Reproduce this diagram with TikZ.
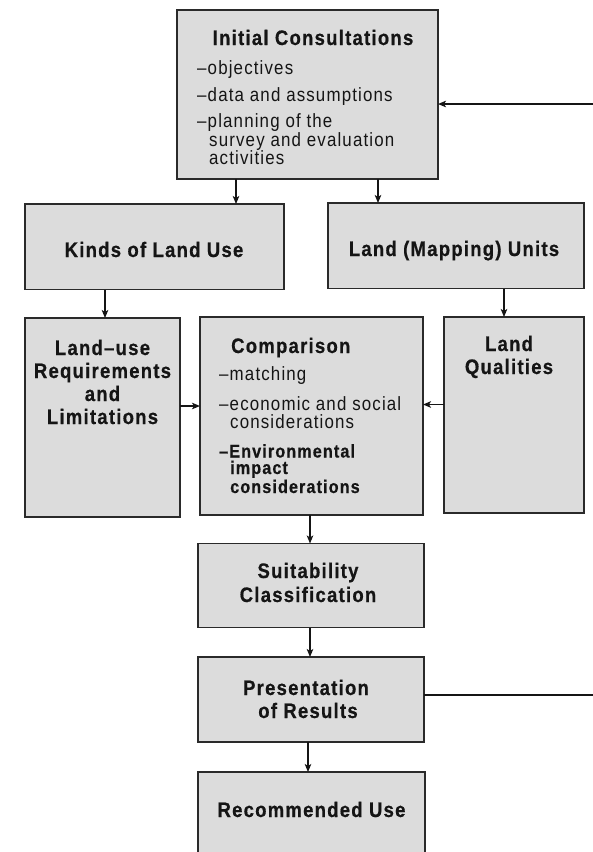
\documentclass[tikz,border=0pt]{standalone}
\usepackage{fontspec}
\setmainfont{Liberation Sans}[FakeStretch=0.88, LetterSpace=6, BoldFeatures={FakeBold=0.6}]
\usetikzlibrary{arrows.meta}
\definecolor{boxfill}{HTML}{DCDCDC}
\definecolor{boxline}{HTML}{2A2A2A}
\definecolor{ink}{HTML}{151515}
\tikzset{
  box/.style={draw=boxline, line width=1.3pt, fill=boxfill, inner sep=0pt, outer sep=0pt},
  ttl/.style={font=\fontsize{21}{23}\selectfont\bfseries, text=ink, inner sep=0pt, anchor=base},
  itm/.style={font=\fontsize{19.2}{18}\selectfont, text=ink, inner sep=0pt, anchor=base west},
  bitm/.style={font=\fontsize{18.4}{18}\selectfont\bfseries, text=ink, inner sep=0pt, anchor=base west},
  arr/.style={-{Stealth[length=8pt,width=6.5pt,inset=2pt]}, line width=1.4pt, draw=ink},
  lin/.style={line width=1.4pt, draw=ink}
}
\begin{document}
\begin{tikzpicture}[x=1pt,y=-1pt]
\useasboundingbox (0,0) rectangle (593,852);
\clip (0,0) rectangle (593,852);
\fill[white] (0,0) rectangle (593,852);

% boxes
\node[box, minimum width=261pt, minimum height=169pt] (init) at (307.5,94.5) {};
\node[box, minimum width=259pt, minimum height=85.5pt] (kinds) at (154.5,246.75) {};
\node[box, minimum width=256pt, minimum height=85.5pt] (units) at (456,245.75) {};
\node[box, minimum width=155pt, minimum height=199pt] (luse) at (102.5,417.5) {};
\node[box, minimum width=223pt, minimum height=198pt] (comp) at (311.5,416) {};
\node[box, minimum width=140pt, minimum height=196pt] (qual) at (514,415) {};
\node[box, minimum width=226pt, minimum height=84pt] (suit) at (311,585.5) {};
\node[box, minimum width=226pt, minimum height=85pt] (pres) at (311,699.5) {};
\node[box, minimum width=227pt, minimum height=108pt] (rec) at (311.5,826) {};

% texts: Initial Consultations
\node[ttl] (icT) at (313,45) {Initial Consultations};
\node[itm] (ic1) at (197,74) {–objectives};
\node[itm] (ic2) at (197,101) {–data and assumptions};
\node[itm] (ic3) at (197,127.5) {–planning of the};
\node[itm] (ic3b) at (209,146.5) {survey and evaluation};
\node[itm] (ic3c) at (209,164) {activities};

\node[ttl] (kindsT) at (154,257) {Kinds of Land Use};
\node[ttl] (unitsT) at (454,256) {Land (Mapping) Units};

\node[ttl] (lu1) at (102.5,355) {Land–use};
\node[ttl] (lu2) at (102.5,378) {Requirements};
\node[ttl] (lu3) at (102.5,401) {and};
\node[ttl] (lu4) at (102.5,424) {Limitations};

\node[ttl, anchor=base west] (cpT) at (231,353) {Comparison};
\node[itm] (cp1) at (219,380) {–matching};
\node[itm] (cp2) at (219,410) {–economic and social};
\node[itm] (cp2b) at (230,428.5) {considerations};
\node[bitm] (cp3) at (219,457.5) {–Environmental};
\node[bitm] (cp3b) at (230,474) {impact};
\node[bitm] (cp3c) at (230,493) {considerations};

\node[ttl] (lq1) at (509,351) {Land};
\node[ttl] (lq2) at (509,374) {Qualities};

\node[ttl] (su1) at (308,578) {Suitability};
\node[ttl] (su2) at (308,602) {Classification};

\node[ttl] (pr1) at (306,695) {Presentation};
\node[ttl] (pr2) at (308,718) {of Results};

\node[ttl] (reT) at (311.5,817) {Recommended Use};

% connectors
\draw[arr] (init.south -| 236,0) -- (kinds.north -| 236,0);
\draw[arr] (init.south -| 378,0) -- (units.north -| 378,0);
\draw[arr] (kinds.south -| 105,0) -- (luse.north -| 105,0);
\draw[arr] (units.south -| 504,0) -- (qual.north -| 504,0);
\draw[arr] (luse.east |- 0,406) -- (comp.west |- 0,406);
\draw[arr] (qual.west |- 0,404.5) -- (comp.east |- 0,404.5);
\draw[arr] (comp.south -| 310,0) -- (suit.north -| 310,0);
\draw[arr] (suit.south -| 310,0) -- (pres.north -| 310,0);
\draw[arr] (pres.south -| 308,0) -- (rec.north -| 308,0);

\coordinate (fbB) at (593,695);
\coordinate (fbT) at (593,104);
\draw[lin] (pres.east |- fbB) -- (fbB);
\draw[arr] (fbT) -- (init.east |- fbT);
\end{tikzpicture}
\end{document}
